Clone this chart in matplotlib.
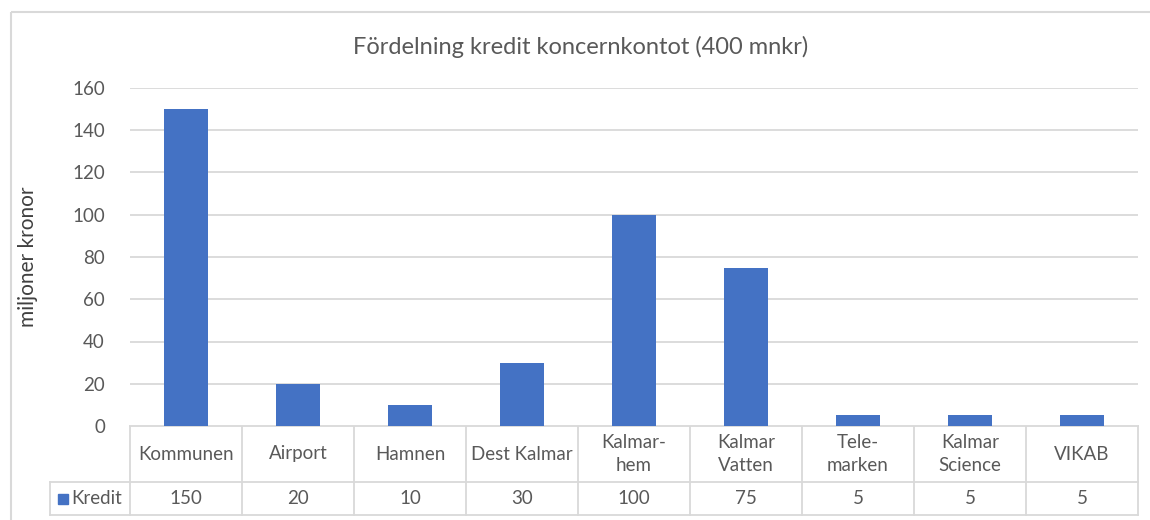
import matplotlib.pyplot as plt
from matplotlib.patches import Rectangle

# Data
kategorier = ['Kommunen', 'Airport', 'Hamnen', 'Dest Kalmar', 'Kalmar-\nhem',
              'Kalmar\nVatten', 'Tele-\nmarken', 'Kalmar\nScience', 'VIKAB']
kredit = [150, 20, 10, 30, 100, 75, 5, 5, 5]
serienamn = 'Kredit'
yticks = [0, 20, 40, 60, 80, 100, 120, 140, 160]

blau = '#4472C4'
grau = '#D9D9D9'
text_farbe = '#595959'
plt.rcParams['font.family'] = ['Lato', 'DejaVu Sans']

W, H = 1150, 520
fig = plt.figure(figsize=(W / 100, H / 100), dpi=100)

# Pixel-Layout
x0, x1 = 130, 1138
y_top, y_null = 88, 426
zeile1, zeile2 = 482, 515
leg_x = 50

ax = fig.add_axes([x0 / W, 1 - y_null / H, (x1 - x0) / W, (y_null - y_top) / H])
pos = list(range(len(kategorier)))
ax.bar(pos, kredit, width=0.4, color=blau, zorder=3)
ax.set_xlim(-0.5, len(kategorier) - 0.5)
ax.set_ylim(0, 160)
ax.set_yticks(yticks)
ax.set_xticks([])
ax.grid(axis='y', color=grau, linewidth=1.3, zorder=0)
for s in ax.spines.values():
    s.set_visible(False)
ax.tick_params(axis='y', length=0, labelsize=13.5, labelcolor=text_farbe, pad=18)
ax.yaxis.set_label_coords(-92 / (x1 - x0), 0.5)
ax.set_ylabel('miljoner kronor', fontsize=15, color='#404040')

# Tabelle + Rahmen in Pixelkoordinaten
tab = fig.add_axes([0, 0, 1, 1], zorder=-1)
tab.set_xlim(0, W)
tab.set_ylim(H, 0)
tab.axis('off')
tab.add_patch(Rectangle((11, 12), W + 20, H + 20, fill=False, edgecolor=grau, linewidth=1.5))

spalte = (x1 - x0) / len(kategorier)
lw = 1.3
tab.plot([x0, x1], [y_null, y_null], color=grau, lw=lw)
tab.plot([leg_x, x1], [zeile1, zeile1], color=grau, lw=lw)
tab.plot([leg_x, x1], [zeile2, zeile2], color=grau, lw=lw)
tab.plot([leg_x, leg_x], [zeile1, zeile2], color=grau, lw=lw)
for i in range(len(kategorier) + 1):
    xs = x0 + i * spalte
    tab.plot([xs, xs], [y_null, zeile2], color=grau, lw=lw)

for i, (k, v) in enumerate(zip(kategorier, kredit)):
    xm = x0 + (i + 0.5) * spalte
    tab.text(xm, (y_null + zeile1) / 2, k, ha='center', va='center',
             fontsize=13.5, color=text_farbe, linespacing=1.4)
    tab.text(xm, (zeile1 + zeile2) / 2, str(v), ha='center', va='center',
             fontsize=13.5, color=text_farbe)

tab.add_patch(Rectangle((58, 494), 10, 10, color=blau))
tab.text(71, (zeile1 + zeile2) / 2, serienamn, ha='left', va='center',
         fontsize=13.5, color=text_farbe)

fig.suptitle('Fördelning kredit koncernkontot (400 mnkr)', x=0.505, y=1 - 47 / H,
             va='center', fontsize=17, color=text_farbe)

fig.savefig('out.png', dpi=100)
